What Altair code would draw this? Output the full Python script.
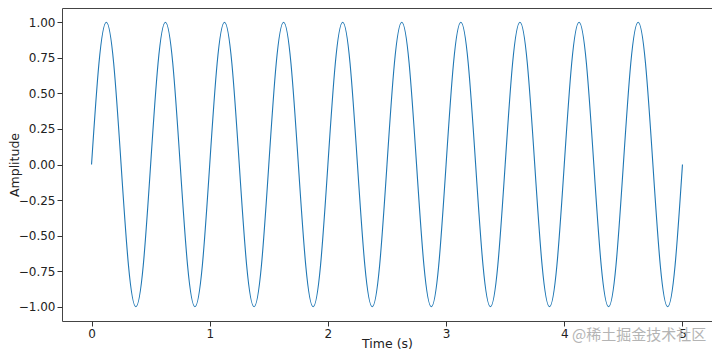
import altair as alt
import pandas as pd

# Time samples (s)
time_s = [
    0.0, 0.0625, 0.125, 0.1875, 0.25, 0.3125, 0.375, 0.4375,
    0.5, 0.5625, 0.625, 0.6875, 0.75, 0.8125, 0.875, 0.9375,
    1.0, 1.0625, 1.125, 1.1875, 1.25, 1.3125, 1.375, 1.4375,
    1.5, 1.5625, 1.625, 1.6875, 1.75, 1.8125, 1.875, 1.9375,
    2.0, 2.0625, 2.125, 2.1875, 2.25, 2.3125, 2.375, 2.4375,
    2.5, 2.5625, 2.625, 2.6875, 2.75, 2.8125, 2.875, 2.9375,
    3.0, 3.0625, 3.125, 3.1875, 3.25, 3.3125, 3.375, 3.4375,
    3.5, 3.5625, 3.625, 3.6875, 3.75, 3.8125, 3.875, 3.9375,
    4.0, 4.0625, 4.125, 4.1875, 4.25, 4.3125, 4.375, 4.4375,
    4.5, 4.5625, 4.625, 4.6875, 4.75, 4.8125, 4.875, 4.9375,
    5.0,
]

# Amplitude values
amplitude = [
    0.0, 0.71, 1.0, 0.71, 0.0, -0.71, -1.0, -0.71,
    0.0, 0.71, 1.0, 0.71, 0.0, -0.71, -1.0, -0.71,
    0.0, 0.71, 1.0, 0.71, 0.0, -0.71, -1.0, -0.71,
    0.0, 0.71, 1.0, 0.71, 0.0, -0.71, -1.0, -0.71,
    0.0, 0.71, 1.0, 0.71, 0.0, -0.71, -1.0, -0.71,
    0.0, 0.71, 1.0, 0.71, 0.0, -0.71, -1.0, -0.71,
    0.0, 0.71, 1.0, 0.71, 0.0, -0.71, -1.0, -0.71,
    0.0, 0.71, 1.0, 0.71, 0.0, -0.71, -1.0, -0.71,
    0.0, 0.71, 1.0, 0.71, 0.0, -0.71, -1.0, -0.71,
    0.0, 0.71, 1.0, 0.71, 0.0, -0.71, -1.0, -0.71,
    0.0,
]

x_ticks = [0, 1, 2, 3, 4, 5]
y_ticks = [-1.0, -0.75, -0.5, -0.25, 0.0, 0.25, 0.5, 0.75, 1.0]
watermark = ["@稀土掘金技术社区"]

df = pd.DataFrame({"t": time_s, "a": amplitude})
FONT = "DejaVu Sans"
W, H = 650, 313

line = alt.Chart(df).mark_line(
    color="#1f77b4", strokeWidth=1.1, interpolate="natural"
).encode(
    x=alt.X(
        "t:Q",
        scale=alt.Scale(domain=[-0.25, 5.25], nice=False, zero=False),
        axis=alt.Axis(
            values=x_ticks, format="d", title="Time (s)",
            titleY=22, titleBaseline="middle",
        ),
    ),
    y=alt.Y(
        "a:Q",
        scale=alt.Scale(domain=[-1.1, 1.1], nice=False, zero=False),
        axis=alt.Axis(
            values=y_ticks, format=".2f", title="Amplitude",
            titleX=-48, titleY=H / 2, titleAngle=270,
            titleAlign="center", titleBaseline="middle",
        ),
    ),
)

mark = alt.Chart(pd.DataFrame({"w": watermark})).mark_text(
    font="Noto Sans CJK SC", fontSize=15, color="#b4b4b4",
    align="left", baseline="middle",
).encode(text="w:N", x=alt.value(510), y=alt.value(327))

chart = alt.layer(line, mark).properties(
    width=W, height=H,
    autosize=alt.AutoSizeParams(type="none"),
    padding={"left": 54, "top": 0, "right": 0, "bottom": 28},
).configure_view(
    stroke="#444444", strokeWidth=1
).configure_axis(
    grid=False, domain=False,
    tickColor="#333333", tickSize=5, tickWidth=1,
    labelFont=FONT, labelFontSize=12, labelColor="#222222", labelPadding=2,
    titleFont=FONT, titleFontSize=12.5, titleFontWeight="normal", titleColor="#222222",
)

chart.save("out.html", embed_options={"renderer": "svg", "actions": False})
